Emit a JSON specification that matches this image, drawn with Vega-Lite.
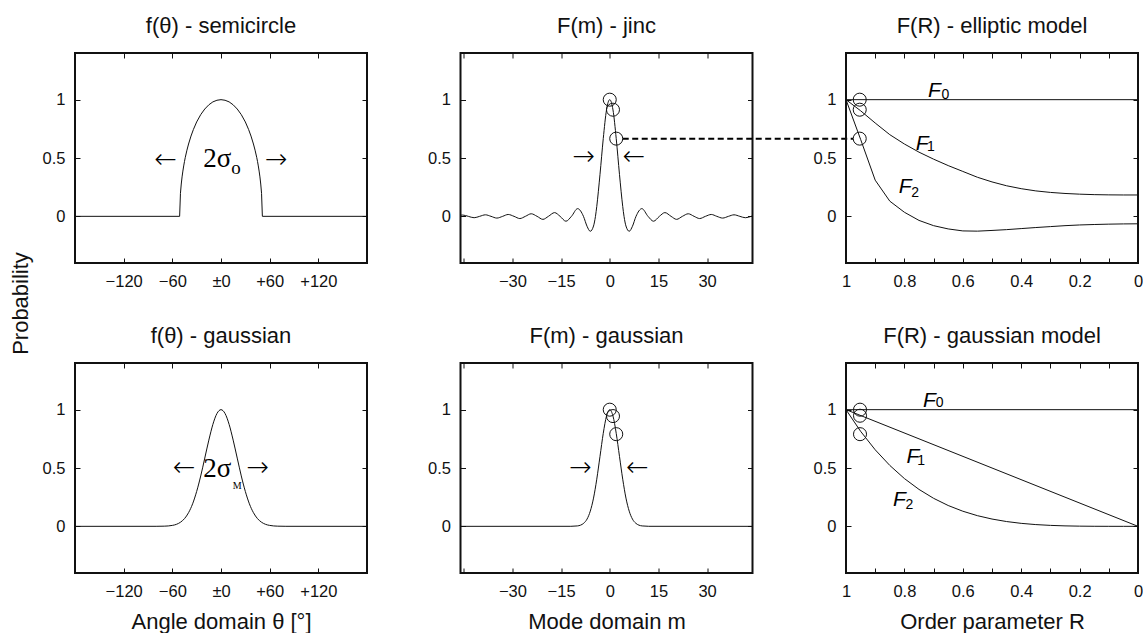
{
  "$schema": "https://vega.github.io/schema/vega-lite/v6.json",
  "padding": {"left": 8, "top": 13, "right": 0, "bottom": 0},
  "background": "white",
  "config": {
    "view": {"stroke": "#111", "strokeWidth": 2},
    "font": "Liberation Sans",
    "mark": {"color": "#111"},
    "axis": {"domain": false, "grid": false, "ticks": true, "tickSize": -5, "tickColor": "#111", "tickWidth": 1, "labelFont": "Liberation Sans", "labelFontSize": 16.5, "labelColor": "#111", "labelPadding": 15.5, "labelFlush": false, "labelOverlap": false, "titleFont": "Liberation Sans", "titleFontSize": 22, "titleFontWeight": "normal", "titleColor": "#111"},
    "axisY": {"labelPadding": 15},
    "title": {"font": "Liberation Sans", "fontSize": 22, "fontWeight": "normal", "color": "#111", "offset": 15, "anchor": "middle", "frame": "group"}
  },
  "datasets": {
    "semi": [
      {"x": -180, "y": 0}, {"x": -51, "y": 0}, {"x": -50, "y": 0.197}, {"x": -49, "y": 0.277}, {"x": -48, "y": 0.338}, {"x": -47, "y": 0.388}, {"x": -46, "y": 0.432}, {"x": -45, "y": 0.471}, {"x": -44, "y": 0.506}, {"x": -42, "y": 0.567}, {"x": -40, "y": 0.62}, {"x": -37, "y": 0.688}, {"x": -34, "y": 0.745}, {"x": -30, "y": 0.809}, {"x": -25, "y": 0.872}, {"x": -20, "y": 0.92}, {"x": -15, "y": 0.956}, {"x": -10, "y": 0.981}, {"x": -5, "y": 0.995}, {"x": 0, "y": 1},
      {"x": 5, "y": 0.995}, {"x": 10, "y": 0.981}, {"x": 15, "y": 0.956}, {"x": 20, "y": 0.92}, {"x": 25, "y": 0.872}, {"x": 30, "y": 0.809}, {"x": 34, "y": 0.745}, {"x": 37, "y": 0.688}, {"x": 40, "y": 0.62}, {"x": 42, "y": 0.567}, {"x": 44, "y": 0.506}, {"x": 45, "y": 0.471}, {"x": 46, "y": 0.432}, {"x": 47, "y": 0.388}, {"x": 48, "y": 0.338}, {"x": 49, "y": 0.277}, {"x": 50, "y": 0.197}, {"x": 51, "y": 0}, {"x": 180, "y": 0}
    ],
    "jinc": [
      {"x": -46, "y": 0.01}, {"x": -45.3, "y": 0.011}, {"x": -43.6, "y": 0}, {"x": -41.8, "y": -0.012}, {"x": -40.1, "y": 0}, {"x": -38.3, "y": 0.013}, {"x": -36.6, "y": 0}, {"x": -34.8, "y": -0.015}, {"x": -33, "y": 0}, {"x": -31.3, "y": 0.016}, {"x": -29.5, "y": 0}, {"x": -27.7, "y": -0.019}, {"x": -26, "y": 0}, {"x": -24.2, "y": 0.022}, {"x": -22.4, "y": 0}, {"x": -20.6, "y": -0.026}, {"x": -18.9, "y": 0}, {"x": -17, "y": 0.032}, {"x": -15.3, "y": 0}, {"x": -13.5, "y": -0.042}, {"x": -11.8, "y": 0}, {"x": -9.9, "y": 0.066}, {"x": -8.1, "y": 0}, {"x": -7, "y": -0.085}, {"x": -6, "y": -0.128}, {"x": -5, "y": -0.083}, {"x": -4.4, "y": 0}, {"x": -4, "y": 0.085}, {"x": -3, "y": 0.36}, {"x": -2, "y": 0.666}, {"x": -1, "y": 0.912}, {"x": 0, "y": 1},
      {"x": 1, "y": 0.912}, {"x": 2, "y": 0.666}, {"x": 3, "y": 0.36}, {"x": 4, "y": 0.085}, {"x": 4.4, "y": 0}, {"x": 5, "y": -0.083}, {"x": 6, "y": -0.128}, {"x": 7, "y": -0.085}, {"x": 8.1, "y": 0}, {"x": 9.9, "y": 0.066}, {"x": 11.8, "y": 0}, {"x": 13.5, "y": -0.042}, {"x": 15.3, "y": 0}, {"x": 17, "y": 0.032}, {"x": 18.9, "y": 0}, {"x": 20.6, "y": -0.026}, {"x": 22.4, "y": 0}, {"x": 24.2, "y": 0.022}, {"x": 26, "y": 0}, {"x": 27.7, "y": -0.019}, {"x": 29.5, "y": 0}, {"x": 31.3, "y": 0.016}, {"x": 33, "y": 0}, {"x": 34.8, "y": -0.015}, {"x": 36.6, "y": 0}, {"x": 38.3, "y": 0.013}, {"x": 40.1, "y": 0}, {"x": 41.8, "y": -0.012}, {"x": 43.6, "y": 0}, {"x": 44, "y": 0.004}
    ],
    "gth": [
      {"x": -180, "y": 0}, {"x": -80, "y": 0.0002}, {"x": -70, "y": 0.0014}, {"x": -60, "y": 0.008}, {"x": -55, "y": 0.017}, {"x": -50, "y": 0.035}, {"x": -45, "y": 0.066}, {"x": -40, "y": 0.117}, {"x": -35, "y": 0.193}, {"x": -30, "y": 0.299}, {"x": -25, "y": 0.432}, {"x": -20, "y": 0.585}, {"x": -15, "y": 0.739}, {"x": -10, "y": 0.874}, {"x": -5, "y": 0.967}, {"x": 0, "y": 1},
      {"x": 5, "y": 0.967}, {"x": 10, "y": 0.874}, {"x": 15, "y": 0.739}, {"x": 20, "y": 0.585}, {"x": 25, "y": 0.432}, {"x": 30, "y": 0.299}, {"x": 35, "y": 0.193}, {"x": 40, "y": 0.117}, {"x": 45, "y": 0.066}, {"x": 50, "y": 0.035}, {"x": 55, "y": 0.017}, {"x": 60, "y": 0.008}, {"x": 70, "y": 0.0014}, {"x": 80, "y": 0.0002}, {"x": 180, "y": 0}
    ],
    "gm": [
      {"x": -46, "y": 0}, {"x": -12, "y": 0.0003}, {"x": -10, "y": 0.0035}, {"x": -9, "y": 0.01}, {"x": -8, "y": 0.027}, {"x": -7, "y": 0.062}, {"x": -6, "y": 0.13}, {"x": -5, "y": 0.242}, {"x": -4, "y": 0.404}, {"x": -3, "y": 0.6}, {"x": -2, "y": 0.797}, {"x": -1, "y": 0.945}, {"x": 0, "y": 1},
      {"x": 1, "y": 0.945}, {"x": 2, "y": 0.797}, {"x": 3, "y": 0.6}, {"x": 4, "y": 0.404}, {"x": 5, "y": 0.242}, {"x": 6, "y": 0.13}, {"x": 7, "y": 0.062}, {"x": 8, "y": 0.027}, {"x": 9, "y": 0.01}, {"x": 10, "y": 0.0035}, {"x": 12, "y": 0.0003}, {"x": 44, "y": 0}
    ],
    "ell": [
      {"s": "F0", "x": 1, "y": 1}, {"s": "F0", "x": 0, "y": 1},
      {"s": "F1", "x": 1, "y": 1}, {"s": "F1", "x": 0.95, "y": 0.905}, {"s": "F1", "x": 0.9, "y": 0.8}, {"s": "F1", "x": 0.85, "y": 0.7}, {"s": "F1", "x": 0.8, "y": 0.62}, {"s": "F1", "x": 0.75, "y": 0.55}, {"s": "F1", "x": 0.7, "y": 0.49}, {"s": "F1", "x": 0.65, "y": 0.435}, {"s": "F1", "x": 0.6, "y": 0.385}, {"s": "F1", "x": 0.55, "y": 0.335}, {"s": "F1", "x": 0.5, "y": 0.295}, {"s": "F1", "x": 0.45, "y": 0.262}, {"s": "F1", "x": 0.4, "y": 0.237}, {"s": "F1", "x": 0.35, "y": 0.218}, {"s": "F1", "x": 0.3, "y": 0.205}, {"s": "F1", "x": 0.25, "y": 0.196}, {"s": "F1", "x": 0.2, "y": 0.19}, {"s": "F1", "x": 0.15, "y": 0.186}, {"s": "F1", "x": 0.1, "y": 0.184}, {"s": "F1", "x": 0.05, "y": 0.183}, {"s": "F1", "x": 0, "y": 0.183},
      {"s": "F2", "x": 1, "y": 1}, {"s": "F2", "x": 0.95, "y": 0.66}, {"s": "F2", "x": 0.9, "y": 0.31}, {"s": "F2", "x": 0.85, "y": 0.13}, {"s": "F2", "x": 0.8, "y": 0.035}, {"s": "F2", "x": 0.75, "y": -0.035}, {"s": "F2", "x": 0.7, "y": -0.08}, {"s": "F2", "x": 0.65, "y": -0.108}, {"s": "F2", "x": 0.6, "y": -0.125}, {"s": "F2", "x": 0.55, "y": -0.127}, {"s": "F2", "x": 0.5, "y": -0.121}, {"s": "F2", "x": 0.45, "y": -0.114}, {"s": "F2", "x": 0.4, "y": -0.105}, {"s": "F2", "x": 0.35, "y": -0.096}, {"s": "F2", "x": 0.3, "y": -0.088}, {"s": "F2", "x": 0.25, "y": -0.08}, {"s": "F2", "x": 0.2, "y": -0.074}, {"s": "F2", "x": 0.15, "y": -0.07}, {"s": "F2", "x": 0.1, "y": -0.067}, {"s": "F2", "x": 0.05, "y": -0.065}, {"s": "F2", "x": 0, "y": -0.064}
    ],
    "gmod": [
      {"s": "F0", "x": 1, "y": 1}, {"s": "F0", "x": 0, "y": 1},
      {"s": "F1", "x": 1, "y": 1}, {"s": "F1", "x": 0, "y": 0},
      {"s": "F2", "x": 1, "y": 1}, {"s": "F2", "x": 0.95, "y": 0.8145}, {"s": "F2", "x": 0.9, "y": 0.6561}, {"s": "F2", "x": 0.85, "y": 0.522}, {"s": "F2", "x": 0.8, "y": 0.4096}, {"s": "F2", "x": 0.75, "y": 0.3164}, {"s": "F2", "x": 0.7, "y": 0.2401}, {"s": "F2", "x": 0.65, "y": 0.1785}, {"s": "F2", "x": 0.6, "y": 0.1296}, {"s": "F2", "x": 0.55, "y": 0.0915}, {"s": "F2", "x": 0.5, "y": 0.0625}, {"s": "F2", "x": 0.45, "y": 0.041}, {"s": "F2", "x": 0.4, "y": 0.0256}, {"s": "F2", "x": 0.35, "y": 0.015}, {"s": "F2", "x": 0.3, "y": 0.0081}, {"s": "F2", "x": 0.25, "y": 0.0039}, {"s": "F2", "x": 0.2, "y": 0.0016}, {"s": "F2", "x": 0.15, "y": 0.0005}, {"s": "F2", "x": 0.1, "y": 0.0001}, {"s": "F2", "x": 0.05, "y": 0}, {"s": "F2", "x": 0, "y": 0}
    ],
    "circ": [
      {"p": 2, "x": 0, "y": 1}, {"p": 2, "x": 1, "y": 0.914}, {"p": 2, "x": 2, "y": 0.666},
      {"p": 3, "x": 0.953, "y": 1}, {"p": 3, "x": 0.953, "y": 0.914}, {"p": 3, "x": 0.953, "y": 0.666},
      {"p": 5, "x": 0, "y": 1}, {"p": 5, "x": 1, "y": 0.945}, {"p": 5, "x": 2, "y": 0.79},
      {"p": 6, "x": 0.952, "y": 1}, {"p": 6, "x": 0.952, "y": 0.948}, {"p": 6, "x": 0.952, "y": 0.79}
    ],
    "dash": [{"x": 4, "x2": 75, "y": 0.666}],
    "ann": [
      {"p": 1, "k": "arrow", "x": -68.2, "y": 0.486, "t": "←"}, {"p": 1, "k": "arrow", "x": 68.2, "y": 0.486, "t": "→"},
      {"p": 1, "k": "main", "x": -4.5, "y": 0.423, "t": "2σ"}, {"p": 1, "k": "sub", "x": 18.5, "y": 0.36, "t": "o"},
      {"p": 4, "k": "arrow", "x": -45.5, "y": 0.5, "t": "←"}, {"p": 4, "k": "arrow", "x": 45.4, "y": 0.5, "t": "→"},
      {"p": 4, "k": "main", "x": -4.5, "y": 0.424, "t": "2σ"}, {"p": 4, "k": "sub", "x": 20, "y": 0.318, "t": "M"},
      {"p": 2, "k": "arrow", "x": -8.0, "y": 0.508, "t": "→"}, {"p": 2, "k": "arrow", "x": 7.4, "y": 0.508, "t": "←"},
      {"p": 5, "k": "arrow", "x": -9.0, "y": 0.501, "t": "→"}, {"p": 5, "k": "arrow", "x": 8.5, "y": 0.501, "t": "←"}
    ],
    "lab": [
      {"p": 3, "k": "F", "x": 0.697, "y": 1.022, "t": "F"}, {"p": 3, "k": "n", "x": 0.66, "y": 1.01, "t": "0"},
      {"p": 3, "k": "F", "x": 0.739, "y": 0.566, "t": "F"}, {"p": 3, "k": "n", "x": 0.709, "y": 0.56, "t": "1"},
      {"p": 3, "k": "F", "x": 0.797, "y": 0.2, "t": "F"}, {"p": 3, "k": "n", "x": 0.763, "y": 0.165, "t": "2"},
      {"p": 6, "k": "F", "x": 0.714, "y": 1.026, "t": "F"}, {"p": 6, "k": "n", "x": 0.679, "y": 1.02, "t": "0"},
      {"p": 6, "k": "F", "x": 0.771, "y": 0.547, "t": "F"}, {"p": 6, "k": "n", "x": 0.743, "y": 0.527, "t": "1"},
      {"p": 6, "k": "F", "x": 0.817, "y": 0.174, "t": "F"}, {"p": 6, "k": "n", "x": 0.783, "y": 0.146, "t": "2"}
    ]
  },
  "columns": 3,
  "spacing": {"row": 100, "column": 93.5},
  "bounds": "flush",
  "concat": [
    {
      "width": 292, "height": 210,
      "title": "f(θ) - semicircle",
      "layer": [
        {"data": {"name": "semi"}, "mark": {"type": "line", "strokeWidth": 1},
         "encoding": {
           "x": {"field": "x", "type": "quantitative", "scale": {"domain": [-180, 180], "nice": false}, "axis": {"orient": "bottom", "values": [-120, -60, 0, 60, 120], "labelExpr": "datum.value == 0 ? '±0' : (datum.value > 0 ? '+' + datum.value : '−' + abs(datum.value))", "title": null}},
           "y": {"field": "y", "type": "quantitative", "scale": {"domain": [-0.4, 1.4], "nice": false}, "axis": {"orient": "left", "values": [0, 0.5, 1], "format": "~g", "title": "Probability", "titleX": -48, "titleY": 250, "titleAngle": -90, "titleAlign": "center", "titleBaseline": "alphabetic", "titleFontSize": 22}}
         }},
        {"data": {"name": "ann"}, "transform": [{"filter": "datum.p == 1 && datum.k == 'arrow'"}],
         "mark": {"type": "text", "font": "DejaVu Sans", "fontWeight": 200, "fontSize": 27, "baseline": "middle", "align": "center"},
         "encoding": {
           "x": {"field": "x", "type": "quantitative", "scale": {"domain": [-180, 180], "nice": false}, "axis": {"orient": "top", "values": [-120, -60, 0, 60, 120], "labels": false, "title": null}},
           "y": {"field": "y", "type": "quantitative", "scale": {"domain": [-0.4, 1.4], "nice": false}, "axis": {"orient": "right", "values": [0, 0.5, 1], "labels": false, "title": null}},
           "text": {"field": "t", "type": "nominal"}
         }},
        {"data": {"name": "ann"}, "transform": [{"filter": "datum.p == 1 && datum.k == 'main'"}],
         "mark": {"type": "text", "font": "Liberation Serif", "fontSize": 27, "baseline": "alphabetic", "align": "center"},
         "encoding": {
           "x": {"field": "x", "type": "quantitative", "scale": {"domain": [-180, 180], "nice": false}, "axis": null},
           "y": {"field": "y", "type": "quantitative", "scale": {"domain": [-0.4, 1.4], "nice": false}, "axis": null},
           "text": {"field": "t", "type": "nominal"}
         }},
        {"data": {"name": "ann"}, "transform": [{"filter": "datum.p == 1 && datum.k == 'sub'"}],
         "mark": {"type": "text", "font": "Liberation Serif", "fontSize": 19, "baseline": "alphabetic", "align": "center"},
         "encoding": {
           "x": {"field": "x", "type": "quantitative", "scale": {"domain": [-180, 180], "nice": false}, "axis": null},
           "y": {"field": "y", "type": "quantitative", "scale": {"domain": [-0.4, 1.4], "nice": false}, "axis": null},
           "text": {"field": "t", "type": "nominal"}
         }}
      ],
      "resolve": {"axis": {"x": "independent", "y": "independent"}}
    },
    {
      "width": 292, "height": 210,
      "title": "F(m) - jinc",
      "layer": [
        {"data": {"name": "jinc"}, "mark": {"type": "line", "strokeWidth": 1, "interpolate": "monotone"},
         "encoding": {
           "x": {"field": "x", "type": "quantitative", "scale": {"domain": [-46, 44], "nice": false}, "axis": {"orient": "bottom", "values": [-45, -30, -15, 0, 15, 30], "labelExpr": "datum.value == -45 ? '' : (datum.value < 0 ? '−' + abs(datum.value) : '' + datum.value)", "title": null}},
           "y": {"field": "y", "type": "quantitative", "scale": {"domain": [-0.4, 1.4], "nice": false}, "axis": {"orient": "left", "values": [0, 0.5, 1], "format": "~g", "title": null}}
         }},
        {"data": {"name": "circ"}, "transform": [{"filter": "datum.p == 2"}],
         "mark": {"type": "point", "shape": "circle", "filled": false, "size": 170, "strokeWidth": 1, "opacity": 1},
         "encoding": {
           "x": {"field": "x", "type": "quantitative", "scale": {"domain": [-46, 44], "nice": false}, "axis": {"orient": "top", "values": [-45, -30, -15, 0, 15, 30], "labels": false, "title": null}},
           "y": {"field": "y", "type": "quantitative", "scale": {"domain": [-0.4, 1.4], "nice": false}, "axis": {"orient": "right", "values": [0, 0.5, 1], "labels": false, "title": null}}
         }},
        {"data": {"name": "dash"}, "mark": {"type": "rule", "strokeDash": [6, 3.5], "strokeWidth": 2},
         "encoding": {
           "x": {"field": "x", "type": "quantitative", "scale": {"domain": [-46, 44], "nice": false}, "axis": null},
           "x2": {"field": "x2"},
           "y": {"field": "y", "type": "quantitative", "scale": {"domain": [-0.4, 1.4], "nice": false}, "axis": null}
         }},
        {"data": {"name": "ann"}, "transform": [{"filter": "datum.p == 2"}],
         "mark": {"type": "text", "font": "DejaVu Sans", "fontWeight": 200, "fontSize": 27, "baseline": "middle", "align": "center"},
         "encoding": {
           "x": {"field": "x", "type": "quantitative", "scale": {"domain": [-46, 44], "nice": false}, "axis": null},
           "y": {"field": "y", "type": "quantitative", "scale": {"domain": [-0.4, 1.4], "nice": false}, "axis": null},
           "text": {"field": "t", "type": "nominal"}
         }}
      ],
      "resolve": {"axis": {"x": "independent", "y": "independent"}}
    },
    {
      "width": 292, "height": 210,
      "title": "F(R) - elliptic model",
      "layer": [
        {"data": {"name": "ell"}, "mark": {"type": "line", "strokeWidth": 1},
         "encoding": {
           "x": {"field": "x", "type": "quantitative", "scale": {"domain": [0, 1], "reverse": true, "nice": false}, "axis": {"orient": "bottom", "values": [1, 0.9, 0.8, 0.7, 0.6, 0.5, 0.4, 0.3, 0.2, 0.1, 0], "labelExpr": "round(datum.value * 10) % 2 == 0 ? format(datum.value, '~g') : ''", "title": null}},
           "y": {"field": "y", "type": "quantitative", "scale": {"domain": [-0.4, 1.4], "nice": false}, "axis": {"orient": "left", "values": [0, 0.5, 1], "format": "~g", "title": null}},
           "detail": {"field": "s", "type": "nominal"}
         }},
        {"data": {"name": "circ"}, "transform": [{"filter": "datum.p == 3"}],
         "mark": {"type": "point", "shape": "circle", "filled": false, "size": 170, "strokeWidth": 1, "opacity": 1},
         "encoding": {
           "x": {"field": "x", "type": "quantitative", "scale": {"domain": [0, 1], "reverse": true, "nice": false}, "axis": {"orient": "top", "values": [1, 0.9, 0.8, 0.7, 0.6, 0.5, 0.4, 0.3, 0.2, 0.1, 0], "labels": false, "title": null}},
           "y": {"field": "y", "type": "quantitative", "scale": {"domain": [-0.4, 1.4], "nice": false}, "axis": {"orient": "right", "values": [0, 0.5, 1], "labels": false, "title": null}}
         }},
        {"data": {"name": "lab"}, "transform": [{"filter": "datum.p == 3 && datum.k == 'F'"}],
         "mark": {"type": "text", "fontSize": 21, "fontStyle": "italic", "baseline": "alphabetic", "align": "center"},
         "encoding": {
           "x": {"field": "x", "type": "quantitative", "scale": {"domain": [0, 1], "reverse": true, "nice": false}, "axis": null},
           "y": {"field": "y", "type": "quantitative", "scale": {"domain": [-0.4, 1.4], "nice": false}, "axis": null},
           "text": {"field": "t", "type": "nominal"}
         }},
        {"data": {"name": "lab"}, "transform": [{"filter": "datum.p == 3 && datum.k == 'n'"}],
         "mark": {"type": "text", "fontSize": 14, "baseline": "alphabetic", "align": "center"},
         "encoding": {
           "x": {"field": "x", "type": "quantitative", "scale": {"domain": [0, 1], "reverse": true, "nice": false}, "axis": null},
           "y": {"field": "y", "type": "quantitative", "scale": {"domain": [-0.4, 1.4], "nice": false}, "axis": null},
           "text": {"field": "t", "type": "nominal"}
         }}
      ],
      "resolve": {"axis": {"x": "independent", "y": "independent"}}
    },
    {
      "width": 292, "height": 210,
      "title": "f(θ) - gaussian",
      "layer": [
        {"data": {"name": "gth"}, "mark": {"type": "line", "strokeWidth": 1, "interpolate": "monotone"},
         "encoding": {
           "x": {"field": "x", "type": "quantitative", "scale": {"domain": [-180, 180], "nice": false}, "axis": {"orient": "bottom", "values": [-120, -60, 0, 60, 120], "labelExpr": "datum.value == 0 ? '±0' : (datum.value > 0 ? '+' + datum.value : '−' + abs(datum.value))", "title": "Angle domain θ [°]", "titleY": 55, "titleBaseline": "alphabetic"}},
           "y": {"field": "y", "type": "quantitative", "scale": {"domain": [-0.4, 1.4], "nice": false}, "axis": {"orient": "left", "values": [0, 0.5, 1], "format": "~g", "title": null}}
         }},
        {"data": {"name": "ann"}, "transform": [{"filter": "datum.p == 4 && datum.k == 'arrow'"}],
         "mark": {"type": "text", "font": "DejaVu Sans", "fontWeight": 200, "fontSize": 27, "baseline": "middle", "align": "center"},
         "encoding": {
           "x": {"field": "x", "type": "quantitative", "scale": {"domain": [-180, 180], "nice": false}, "axis": {"orient": "top", "values": [-120, -60, 0, 60, 120], "labels": false, "title": null}},
           "y": {"field": "y", "type": "quantitative", "scale": {"domain": [-0.4, 1.4], "nice": false}, "axis": {"orient": "right", "values": [0, 0.5, 1], "labels": false, "title": null}},
           "text": {"field": "t", "type": "nominal"}
         }},
        {"data": {"name": "ann"}, "transform": [{"filter": "datum.p == 4 && datum.k == 'main'"}],
         "mark": {"type": "text", "font": "Liberation Serif", "fontSize": 27, "baseline": "alphabetic", "align": "center"},
         "encoding": {
           "x": {"field": "x", "type": "quantitative", "scale": {"domain": [-180, 180], "nice": false}, "axis": null},
           "y": {"field": "y", "type": "quantitative", "scale": {"domain": [-0.4, 1.4], "nice": false}, "axis": null},
           "text": {"field": "t", "type": "nominal"}
         }},
        {"data": {"name": "ann"}, "transform": [{"filter": "datum.p == 4 && datum.k == 'sub'"}],
         "mark": {"type": "text", "font": "Liberation Serif", "fontSize": 10, "baseline": "alphabetic", "align": "center"},
         "encoding": {
           "x": {"field": "x", "type": "quantitative", "scale": {"domain": [-180, 180], "nice": false}, "axis": null},
           "y": {"field": "y", "type": "quantitative", "scale": {"domain": [-0.4, 1.4], "nice": false}, "axis": null},
           "text": {"field": "t", "type": "nominal"}
         }}
      ],
      "resolve": {"axis": {"x": "independent", "y": "independent"}}
    },
    {
      "width": 292, "height": 210,
      "title": "F(m) - gaussian",
      "layer": [
        {"data": {"name": "gm"}, "mark": {"type": "line", "strokeWidth": 1, "interpolate": "monotone"},
         "encoding": {
           "x": {"field": "x", "type": "quantitative", "scale": {"domain": [-46, 44], "nice": false}, "axis": {"orient": "bottom", "values": [-45, -30, -15, 0, 15, 30], "labelExpr": "datum.value == -45 ? '' : (datum.value < 0 ? '−' + abs(datum.value) : '' + datum.value)", "title": "Mode domain m", "titleY": 55, "titleBaseline": "alphabetic"}},
           "y": {"field": "y", "type": "quantitative", "scale": {"domain": [-0.4, 1.4], "nice": false}, "axis": {"orient": "left", "values": [0, 0.5, 1], "format": "~g", "title": null}}
         }},
        {"data": {"name": "circ"}, "transform": [{"filter": "datum.p == 5"}],
         "mark": {"type": "point", "shape": "circle", "filled": false, "size": 170, "strokeWidth": 1, "opacity": 1},
         "encoding": {
           "x": {"field": "x", "type": "quantitative", "scale": {"domain": [-46, 44], "nice": false}, "axis": {"orient": "top", "values": [-45, -30, -15, 0, 15, 30], "labels": false, "title": null}},
           "y": {"field": "y", "type": "quantitative", "scale": {"domain": [-0.4, 1.4], "nice": false}, "axis": {"orient": "right", "values": [0, 0.5, 1], "labels": false, "title": null}}
         }},
        {"data": {"name": "ann"}, "transform": [{"filter": "datum.p == 5"}],
         "mark": {"type": "text", "font": "DejaVu Sans", "fontWeight": 200, "fontSize": 27, "baseline": "middle", "align": "center"},
         "encoding": {
           "x": {"field": "x", "type": "quantitative", "scale": {"domain": [-46, 44], "nice": false}, "axis": null},
           "y": {"field": "y", "type": "quantitative", "scale": {"domain": [-0.4, 1.4], "nice": false}, "axis": null},
           "text": {"field": "t", "type": "nominal"}
         }}
      ],
      "resolve": {"axis": {"x": "independent", "y": "independent"}}
    },
    {
      "width": 292, "height": 210,
      "title": "F(R) - gaussian model",
      "layer": [
        {"data": {"name": "gmod"}, "mark": {"type": "line", "strokeWidth": 1},
         "encoding": {
           "x": {"field": "x", "type": "quantitative", "scale": {"domain": [0, 1], "reverse": true, "nice": false}, "axis": {"orient": "bottom", "values": [1, 0.9, 0.8, 0.7, 0.6, 0.5, 0.4, 0.3, 0.2, 0.1, 0], "labelExpr": "round(datum.value * 10) % 2 == 0 ? format(datum.value, '~g') : ''", "title": "Order parameter R", "titleY": 55, "titleBaseline": "alphabetic"}},
           "y": {"field": "y", "type": "quantitative", "scale": {"domain": [-0.4, 1.4], "nice": false}, "axis": {"orient": "left", "values": [0, 0.5, 1], "format": "~g", "title": null}},
           "detail": {"field": "s", "type": "nominal"}
         }},
        {"data": {"name": "circ"}, "transform": [{"filter": "datum.p == 6"}],
         "mark": {"type": "point", "shape": "circle", "filled": false, "size": 170, "strokeWidth": 1, "opacity": 1},
         "encoding": {
           "x": {"field": "x", "type": "quantitative", "scale": {"domain": [0, 1], "reverse": true, "nice": false}, "axis": {"orient": "top", "values": [1, 0.9, 0.8, 0.7, 0.6, 0.5, 0.4, 0.3, 0.2, 0.1, 0], "labels": false, "title": null}},
           "y": {"field": "y", "type": "quantitative", "scale": {"domain": [-0.4, 1.4], "nice": false}, "axis": {"orient": "right", "values": [0, 0.5, 1], "labels": false, "title": null}}
         }},
        {"data": {"name": "lab"}, "transform": [{"filter": "datum.p == 6 && datum.k == 'F'"}],
         "mark": {"type": "text", "fontSize": 21, "fontStyle": "italic", "baseline": "alphabetic", "align": "center"},
         "encoding": {
           "x": {"field": "x", "type": "quantitative", "scale": {"domain": [0, 1], "reverse": true, "nice": false}, "axis": null},
           "y": {"field": "y", "type": "quantitative", "scale": {"domain": [-0.4, 1.4], "nice": false}, "axis": null},
           "text": {"field": "t", "type": "nominal"}
         }},
        {"data": {"name": "lab"}, "transform": [{"filter": "datum.p == 6 && datum.k == 'n'"}],
         "mark": {"type": "text", "fontSize": 14, "baseline": "alphabetic", "align": "center"},
         "encoding": {
           "x": {"field": "x", "type": "quantitative", "scale": {"domain": [0, 1], "reverse": true, "nice": false}, "axis": null},
           "y": {"field": "y", "type": "quantitative", "scale": {"domain": [-0.4, 1.4], "nice": false}, "axis": null},
           "text": {"field": "t", "type": "nominal"}
         }}
      ],
      "resolve": {"axis": {"x": "independent", "y": "independent"}}
    }
  ]
}
